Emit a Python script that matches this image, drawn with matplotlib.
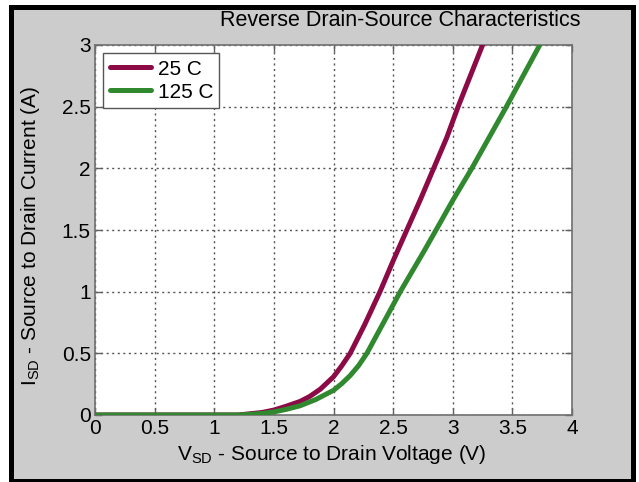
import numpy as np
import matplotlib
matplotlib.use('Agg')
import matplotlib.pyplot as plt
from matplotlib.patches import Rectangle

plt.rcParams['font.family'] = ['Liberation Sans', 'DejaVu Sans']
plt.rcParams['mathtext.fontset'] = 'custom'
plt.rcParams['mathtext.rm'] = 'Liberation Sans'

# reverse diode curves, Vsd (V) vs Isd (A)
v_25 = [0.0, 1.2, 1.3, 1.4, 1.5, 1.6, 1.72, 1.8, 1.89, 2.0, 2.07, 2.14, 2.26, 2.39, 2.5,
        2.615, 2.73, 2.84, 2.95, 3.045, 3.25]
i_25 = [0.0, 0.0, 0.01, 0.02, 0.04, 0.07, 0.11, 0.15, 0.21, 0.31, 0.4, 0.5, 0.73, 1.0, 1.25,
        1.5, 1.75, 2.0, 2.25, 2.5, 3.0]
v_125 = [0.0, 1.2, 1.3, 1.4, 1.5, 1.6, 1.72, 1.85, 2.0, 2.07, 2.14, 2.21, 2.28, 2.42, 2.56,
         2.76, 2.86, 3.0, 3.16, 3.45, 3.73]
i_125 = [0.0, 0.0, 0.005, 0.012, 0.025, 0.045, 0.075, 0.125, 0.2, 0.255, 0.32, 0.4, 0.5,
         0.75, 1.0, 1.33, 1.5, 1.74, 2.0, 2.5, 3.0]
labels = ['25 C', '125 C']
colors = ['#8c0a45', '#31892f']

W, H = 639, 482
fig = plt.figure(figsize=(W / 100, H / 100), dpi=100, facecolor='white')

# black frame with grey panel inside
fig.patches.append(Rectangle((9 / W, 0), 627 / W, 1 - 5 / H, transform=fig.transFigure,
                             facecolor='black', edgecolor='none', zorder=-2))
fig.patches.append(Rectangle((14 / W, 3 / H), 617 / W, 1 - 13 / H, transform=fig.transFigure,
                             facecolor='#cccccc', edgecolor='none', zorder=-1))

# caption text cut off above the frame
fig.text(46 / W, 1 + 6 / H, 'g', fontsize=14, fontweight='bold', ha='center', va='baseline')

ax = fig.add_axes([95 / W, (H - 415) / H, 477 / W, 370 / H])
ax.set_facecolor('white')

ax.plot(v_25, i_25, color=colors[0], lw=3.6, label=labels[0], solid_capstyle='round',
        solid_joinstyle='round', zorder=3)
ax.plot(v_125, i_125, color=colors[1], lw=3.6, label=labels[1], solid_capstyle='round',
        solid_joinstyle='round', zorder=4)

ax.set_xlim(0, 4)
ax.set_ylim(0, 3)
ax.set_xticks(np.arange(0, 4.01, 0.5))
ax.set_yticks(np.arange(0, 3.01, 0.5))
ax.set_xticklabels(['0', '0.5', '1', '1.5', '2', '2.5', '3', '3.5', '4'])
ax.set_yticklabels(['0', '0.5', '1', '1.5', '2', '2.5', '3'])
ax.tick_params(direction='in', length=5, width=1, color='#606060', labelsize=15,
               top=True, right=True, pad=3)
ax.grid(True, linestyle=(0, (1.5, 2.5)), color='#555555', linewidth=1)
for s in ax.spines.values():
    s.set_color('#707070')
    s.set_linewidth(1.2)

ax.set_xlabel(r'V$_{\mathregular{SD}}$ - Source to Drain Voltage (V)', fontsize=15)
ax.set_ylabel(r'I$_{\mathregular{SD}}$ - Source to Drain Current (A)', fontsize=15)
ax.xaxis.set_label_coords(0.497, -0.075)
ax.yaxis.set_label_coords(-0.112, 0.484)

fig.text(400 / W, 1 - 21 / H, 'Reverse Drain-Source Characteristics', fontsize=15.5,
         ha='center', va='center')

leg = ax.legend(loc='upper left', fontsize=15, fancybox=False, edgecolor='#555555',
                handlelength=2.0, borderaxespad=0.4, labelspacing=0.2, borderpad=0.3,
                handletextpad=0.3, framealpha=1)
leg.get_frame().set_linewidth(1)

fig.savefig('out.png', dpi=100, facecolor=fig.get_facecolor())
